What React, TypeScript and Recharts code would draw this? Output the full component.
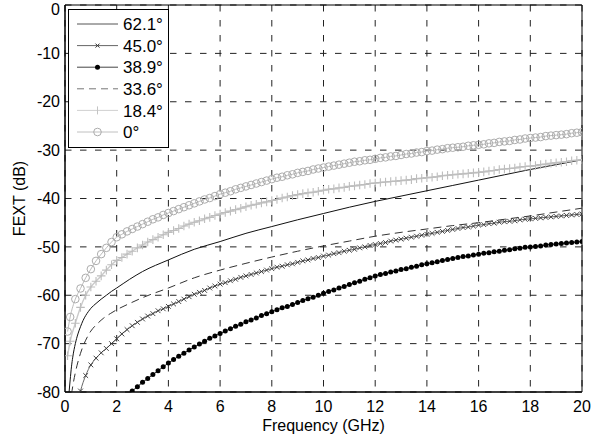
import React from "react";
import {
  LineChart,
  Line,
  XAxis,
  YAxis,
  CartesianGrid,
  ReferenceArea,
  Legend,
} from "recharts";

// frequency grid (GHz) for the marker series
const FREQ = [
  0.1,
  0.2, 0.4, 0.6, 0.8, 1,
  1.2, 1.4, 1.6, 1.8, 2,
  2.2, 2.4, 2.6, 2.8, 3,
  3.2, 3.4, 3.6, 3.8, 4,
  4.2, 4.4, 4.6, 4.8, 5,
  5.2, 5.4, 5.6, 5.8, 6,
  6.2, 6.4, 6.6, 6.8, 7,
  7.2, 7.4, 7.6, 7.8, 8,
  8.2, 8.4, 8.6, 8.8, 9,
  9.2, 9.4, 9.6, 9.8, 10,
  10.2, 10.4, 10.6, 10.8, 11,
  11.2, 11.4, 11.6, 11.8, 12,
  12.2, 12.4, 12.6, 12.8, 13,
  13.2, 13.4, 13.6, 13.8, 14,
  14.2, 14.4, 14.6, 14.8, 15,
  15.2, 15.4, 15.6, 15.8, 16,
  16.2, 16.4, 16.6, 16.8, 17,
  17.2, 17.4, 17.6, 17.8, 18,
  18.2, 18.4, 18.6, 18.8, 19,
  19.2, 19.4, 19.6, 19.8, 20,
];

// 0 deg (open circles)
const DEG_0 = [
  -67.5,
  -64.5, -60.8, -58.6, -56.4, -54.6,
  -52.9, -51.5, -50.2, -49.0, -48.0,
  -47.4, -46.8, -46.3, -45.8, -45.3,
  -44.8, -44.3, -43.9, -43.4, -43.0,
  -42.6, -42.2, -41.8, -41.4, -41.0,
  -40.6, -40.2, -39.9, -39.5, -39.1,
  -38.8, -38.5, -38.1, -37.8, -37.5,
  -37.2, -36.9, -36.6, -36.3, -36.0,
  -35.7, -35.5, -35.2, -35.0, -34.7,
  -34.5, -34.3, -34.0, -33.8, -33.6,
  -33.4, -33.2, -33.0, -32.8, -32.6,
  -32.4, -32.3, -32.1, -32.0, -31.8,
  -31.6, -31.5, -31.3, -31.2, -31.0,
  -30.8, -30.7, -30.5, -30.4, -30.2,
  -30.1, -29.9, -29.8, -29.6, -29.5,
  -29.4, -29.3, -29.1, -29.0, -28.9,
  -28.8, -28.6, -28.5, -28.3, -28.2,
  -28.1, -27.9, -27.8, -27.6, -27.5,
  -27.4, -27.3, -27.1, -27.0, -26.9,
  -26.8, -26.7, -26.5, -26.4, -26.3,
];

// 18.4 deg (plus)
const DEG_18 = [
  -72.5,
  -69.5, -65.8, -62.5, -60.0, -58.3,
  -57.1, -56.0, -54.8, -53.7, -52.8,
  -52.2, -51.5, -50.9, -50.2, -49.6,
  -49.0, -48.5, -48.0, -47.5, -47.0,
  -46.6, -46.2, -45.7, -45.3, -44.9,
  -44.6, -44.2, -43.9, -43.5, -43.2,
  -42.9, -42.6, -42.3, -42.0, -41.7,
  -41.4, -41.2, -40.9, -40.7, -40.4,
  -40.2, -39.9, -39.7, -39.4, -39.2,
  -39.0, -38.8, -38.7, -38.5, -38.3,
  -38.1, -38.0, -37.8, -37.7, -37.5,
  -37.4, -37.2, -37.1, -36.9, -36.8,
  -36.7, -36.6, -36.5, -36.4, -36.3,
  -36.2, -36.1, -35.9, -35.8, -35.7,
  -35.6, -35.5, -35.3, -35.2, -35.1,
  -35.0, -34.9, -34.8, -34.7, -34.6,
  -34.5, -34.3, -34.2, -34.0, -33.9,
  -33.8, -33.7, -33.5, -33.4, -33.3,
  -33.2, -33.0, -32.9, -32.7, -32.6,
  -32.5, -32.4, -32.2, -32.1, -32.0,
];

// 45.0 deg (x markers)
const DEG_45 = [
  null,
  null, -85.0, -79.8, -76.6, -74.4,
  -73.0, -71.9, -71.0, -70.0, -69.0,
  -68.0, -67.1, -66.3, -65.6, -64.9,
  -64.3, -63.8, -63.2, -62.8, -62.3,
  -61.8, -61.3, -60.8, -60.3, -59.8,
  -59.4, -59.0, -58.5, -58.1, -57.7,
  -57.4, -57.0, -56.7, -56.3, -56.0,
  -55.7, -55.4, -55.1, -54.8, -54.5,
  -54.2, -54.0, -53.7, -53.5, -53.2,
  -52.9, -52.7, -52.4, -52.2, -51.9,
  -51.7, -51.4, -51.2, -50.9, -50.7,
  -50.5, -50.2, -50.0, -49.7, -49.5,
  -49.3, -49.1, -48.8, -48.6, -48.4,
  -48.2, -48.0, -47.8, -47.6, -47.4,
  -47.2, -47.0, -46.8, -46.6, -46.4,
  -46.2, -46.0, -45.9, -45.7, -45.5,
  -45.4, -45.2, -45.1, -44.9, -44.8,
  -44.7, -44.6, -44.4, -44.3, -44.2,
  -44.1, -44.0, -43.9, -43.8, -43.7,
  -43.6, -43.5, -43.4, -43.3, -43.2,
];

// 38.9 deg (filled dots)
const DEG_38 = [
  null,
  null, null, null, null, null,
  null, null, null, null, null,
  null, -80.7, -79.8, -78.9, -78.0,
  -77.2, -76.4, -75.6, -74.8, -74.0,
  -73.3, -72.6, -72.0, -71.3, -70.7,
  -70.1, -69.5, -68.9, -68.4, -67.9,
  -67.4, -66.9, -66.4, -66.0, -65.5,
  -65.1, -64.7, -64.2, -63.8, -63.4,
  -63.0, -62.6, -62.3, -61.9, -61.5,
  -61.1, -60.7, -60.4, -60.0, -59.6,
  -59.2, -58.9, -58.5, -58.2, -57.8,
  -57.4, -57.1, -56.7, -56.4, -56.0,
  -55.7, -55.5, -55.2, -55.0, -54.7,
  -54.5, -54.2, -54.0, -53.7, -53.5,
  -53.3, -53.1, -52.8, -52.6, -52.4,
  -52.2, -52.0, -51.9, -51.7, -51.5,
  -51.3, -51.2, -51.0, -50.9, -50.7,
  -50.6, -50.4, -50.3, -50.1, -50.0,
  -49.9, -49.8, -49.6, -49.5, -49.4,
  -49.3, -49.2, -49.1, -49.0, -48.9,
];

// 62.1 deg (plain solid line)
const FREQ_621 = [0.15, 0.2, 0.25, 0.3, 0.4, 0.5, 0.6, 0.7, 0.8, 0.9, 1, 1.2, 1.4, 1.6, 1.8, 2, 2.5, 3, 4, 5, 6, 7, 8, 9, 10, 11, 12, 13, 14, 15, 16, 17, 18, 19, 20];
const DEG_621 = [-80.5, -77.5, -74.8, -72.8, -70.0, -68.0, -66.5, -65.2, -64.2, -63.4, -62.7, -61.7, -60.8, -60.0, -59.2, -58.5, -56.7, -55.1, -52.7, -50.5, -48.9, -47.2, -45.8, -44.4, -43.1, -41.8, -40.6, -39.5, -38.4, -37.3, -36.2, -35.1, -34.0, -33.0, -32.0];

// 33.6 deg (dashed line)
const FREQ_336 = [0.25, 0.3, 0.4, 0.5, 0.6, 0.7, 0.8, 1, 1.25, 1.5, 1.75, 2, 2.5, 3, 4, 5, 6, 7, 8, 9, 10, 11, 12, 13, 14, 15, 16, 17, 18, 19, 20];
const DEG_336 = [-80.5, -78.8, -76.0, -73.8, -72.0, -70.5, -69.3, -67.4, -65.9, -64.7, -63.8, -63.0, -61.7, -60.5, -58.5, -56.4, -54.8, -53.4, -52.1, -50.9, -49.8, -48.8, -47.8, -47.0, -46.3, -45.6, -45.0, -44.3, -43.6, -42.8, -42.0];

const LABELS = ["62.1°", "45.0°", "38.9°", "33.6°", "18.4°", "0°"];
const X_TICKS = [0, 2, 4, 6, 8, 10, 12, 14, 16, 18, 20];
const Y_TICKS = [-80, -70, -60, -50, -40, -30, -20, -10, 0];

const FONT = "'Liberation Sans', Arial, sans-serif";

const markerData = FREQ.map((f, i) => ({
  f,
  d0: DEG_0[i],
  d18: DEG_18[i],
  d45: DEG_45[i],
  d38: DEG_38[i],
}));
const data621 = FREQ_621.map((f, i) => ({ f, v: DEG_621[i] }));
const data336 = FREQ_336.map((f, i) => ({ f, v: DEG_336[i] }));

const ok = (p: any) => p.cx != null && p.cy != null && p.value != null && !Number.isNaN(p.cy);

const XMark = (p: any) => {
  if (!ok(p)) return <g key={p.index} />;
  const { cx, cy } = p;
  const s = 2.4;
  return (
    <path
      key={p.index}
      d={`M${cx - s},${cy - s}L${cx + s},${cy + s}M${cx + s},${cy - s}L${cx - s},${cy + s}`}
      stroke="#333"
      strokeWidth={0.9}
      fill="none"
    />
  );
};

const PlusMark = (p: any) => {
  if (!ok(p)) return <g key={p.index} />;
  const { cx, cy } = p;
  const s = 4.3;
  return (
    <path
      key={p.index}
      d={`M${cx},${cy - s}L${cx},${cy + s}M${cx - s},${cy}L${cx + s},${cy}`}
      stroke="#bdbdbd"
      strokeWidth={1.1}
      fill="none"
    />
  );
};

const CircleMark = (p: any) => {
  if (!ok(p)) return <g key={p.index} />;
  return <circle key={p.index} cx={p.cx} cy={p.cy} r={3.8} stroke="#acacac" strokeWidth={1} fill="none" />;
};

const DotMark = (p: any) => {
  if (!ok(p)) return <g key={p.index} />;
  return <circle key={p.index} cx={p.cx} cy={p.cy} r={2.5} fill="#000" stroke="none" />;
};

function LegendBox() {
  const rowY = (i: number) => 15 + i * 21.6;
  const x1 = 9;
  const x2 = 50;
  const mx = (x1 + x2) / 2;
  return (
    <svg width={102} height={140} style={{ display: "block" }}>
      <rect x={0.5} y={0.5} width={100} height={138} fill="#fff" stroke="#000" />
      {/* 62.1 */}
      <line x1={x1} x2={x2} y1={rowY(0)} y2={rowY(0)} stroke="#555" />
      {/* 45.0 */}
      <line x1={x1} x2={x2} y1={rowY(1)} y2={rowY(1)} stroke="#666" />
      <path d={`M${mx - 2},${rowY(1) - 2}L${mx + 2},${rowY(1) + 2}M${mx + 2},${rowY(1) - 2}L${mx - 2},${rowY(1) + 2}`} stroke="#333" />
      {/* 38.9 */}
      <line x1={x1} x2={x2} y1={rowY(2)} y2={rowY(2)} stroke="#444" />
      <circle cx={mx} cy={rowY(2)} r={2.5} fill="#000" />
      {/* 33.6 */}
      <line x1={x1} x2={x2} y1={rowY(3)} y2={rowY(3)} stroke="#777" strokeDasharray="7 5" />
      {/* 18.4 */}
      <line x1={x1} x2={x2} y1={rowY(4)} y2={rowY(4)} stroke="#d0d0d0" />
      <path d={`M${mx},${rowY(4) - 4}L${mx},${rowY(4) + 4}`} stroke="#c4c4c4" />
      {/* 0 */}
      <line x1={x1} x2={x2} y1={rowY(5)} y2={rowY(5)} stroke="#c0c0c0" />
      <circle cx={mx} cy={rowY(5)} r={3.8} fill="none" stroke="#acacac" />
      {LABELS.map((t, i) => (
        <text key={t} x={55} y={rowY(i)} dy="0.36em" fontSize={17} fontFamily={FONT} fill="#000">
          {t}
        </text>
      ))}
    </svg>
  );
}

export default function App() {
  const tickStyle = { fontSize: 16, fill: "#000", fontFamily: FONT };
  return (
    <div style={{ position: "absolute", left: 0, top: 0, background: "#fff" }}>
      <LineChart width={594} height={439} margin={{ top: 5, right: 12, bottom: 0, left: 0 }}>
        <CartesianGrid stroke="#222" strokeDasharray="6.5 8.5" />
        <XAxis
          type="number"
          dataKey="f"
          domain={[0, 20]}
          ticks={X_TICKS}
          allowDataOverflow
          height={47}
          tickLine={false}
          tickSize={6}
          tickMargin={3}
          axisLine={{ stroke: "#000" }}
          tick={tickStyle}
          label={{ value: "Frequency (GHz)", position: "insideBottom", offset: 8, fontSize: 16, fill: "#000", fontFamily: FONT }}
        />
        <YAxis
          type="number"
          domain={[-80, 0]}
          ticks={Y_TICKS}
          allowDataOverflow
          width={65}
          tickLine={false}
          tickSize={3}
          tickMargin={2}
          axisLine={{ stroke: "#000" }}
          tick={tickStyle}
          label={{
            value: "FEXT (dB)",
            angle: -90,
            position: "insideLeft",
            offset: 19,
            fontSize: 16,
            fill: "#000",
            fontFamily: FONT,
            style: { textAnchor: "middle" },
          }}
        />
        <Line data={data621} dataKey="v" name={LABELS[0]} type="monotone" stroke="#111" strokeWidth={1} dot={false} isAnimationActive={false} />
        <Line data={markerData} dataKey="d45" name={LABELS[1]} type="monotone" stroke="#666" strokeWidth={1} dot={XMark} isAnimationActive={false} />
        <Line data={markerData} dataKey="d38" name={LABELS[2]} type="monotone" stroke="#222" strokeWidth={1} dot={DotMark} isAnimationActive={false} />
        <Line data={data336} dataKey="v" name={LABELS[3]} type="monotone" stroke="#333" strokeWidth={1} strokeDasharray="8 5" dot={false} isAnimationActive={false} />
        <Line data={markerData} dataKey="d18" name={LABELS[4]} type="monotone" stroke="#cacaca" strokeWidth={1.4} dot={PlusMark} isAnimationActive={false} />
        <Line data={markerData} dataKey="d0" name={LABELS[5]} type="monotone" stroke="#bdbdbd" strokeWidth={1} dot={CircleMark} isAnimationActive={false} />
        <ReferenceArea x1={0} x2={20} y1={-80} y2={0} fill="none" stroke="#000" strokeWidth={1} ifOverflow="visible" />
        <Legend
          layout="vertical"
          align="center"
          verticalAlign="middle"
          content={() => <LegendBox />}
          wrapperStyle={{ left: 68, top: 9, width: 102, height: 140 }}
        />
      </LineChart>
    </div>
  );
}
